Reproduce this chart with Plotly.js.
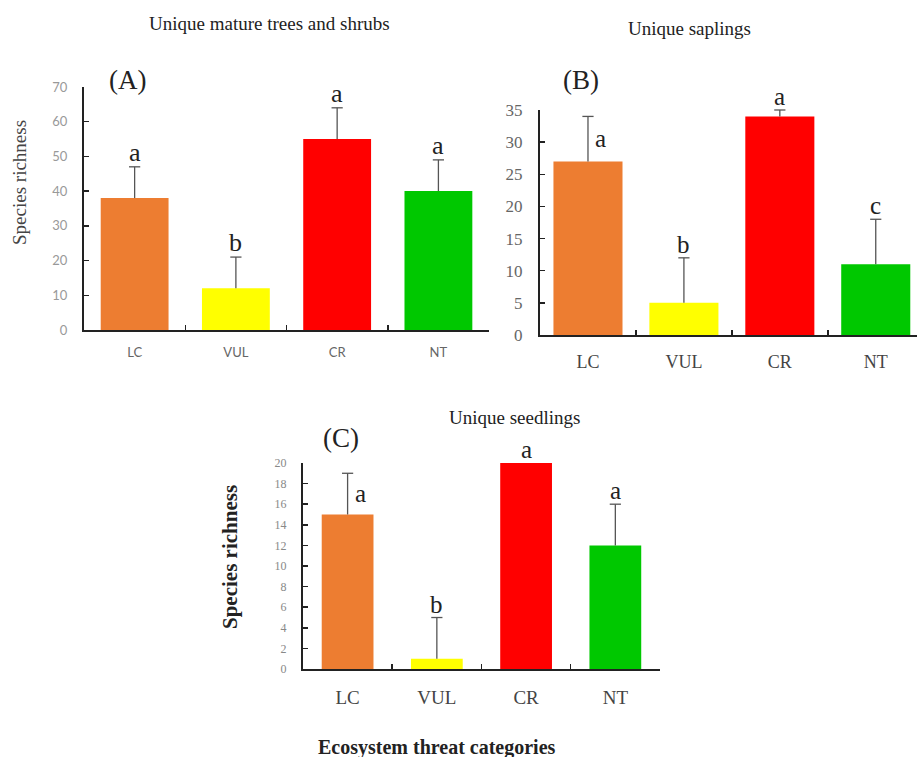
<!DOCTYPE html>
<html>
<head>
<meta charset="utf-8">
<script src="https://cdn.plot.ly/plotly-3.0.1.min.js"></script>
<style>html,body{margin:0;padding:0;background:#fff;}#chart{width:917px;height:757px;}</style>
</head>
<body>
<div id="chart"></div>
<script>
// ---- data ----
var categories = ['LC', 'VUL', 'CR', 'NT'];
var matureValues = [38, 12, 55, 40];
var matureErrors = [9, 9, 9, 9];
var matureLetters = ['a', 'b', 'a', 'a'];
var saplingValues = [27, 5, 34, 11];
var saplingErrors = [7, 7, 1, 7];
var saplingLetters = ['a', 'b', 'a', 'c'];
var seedlingValues = [15, 1, 20, 12];
var seedlingErrors = [4, 4, null, 4];
var seedlingLetters = ['a', 'b', 'a', 'a'];
var barColors = ['#ED7D31', '#FFFF00', '#FF0000', '#00C800'];
var yTicksA = [0, 10, 20, 30, 40, 50, 60, 70];
var yTicksB = [0, 5, 10, 15, 20, 25, 30, 35];
var yTicksC = [0, 2, 4, 6, 8, 10, 12, 14, 16, 18, 20];

var SERIF = '"Liberation Serif", "Times New Roman", serif';
var SANS = 'Lato, "Liberation Sans", sans-serif';
var ERR_COLOR = '#555';

function barTraces(vals, errs, xa, ya, width) {
  var tops = vals.map(function (v, i) { return errs[i] == null ? null : v + errs[i]; });
  return [{
    type: 'bar', x: categories, y: vals, xaxis: xa, yaxis: ya,
    width: width,
    marker: {color: barColors, line: {width: 0}},
    error_y: {type: 'data', symmetric: false, array: errs, color: ERR_COLOR, thickness: 1.3, width: 0},
    hoverinfo: 'skip', showlegend: false
  }, {
    // caps of the upper error whiskers
    type: 'scatter', mode: 'markers', x: categories, y: tops, xaxis: xa, yaxis: ya,
    marker: {symbol: 'line-ew', size: 8, line: {color: ERR_COLOR, width: 1.3}},
    cliponaxis: false, hoverinfo: 'skip', showlegend: false
  }];
}

var data = [].concat(
  barTraces(matureValues, matureErrors, 'x', 'y', 0.67),
  barTraces(saplingValues, saplingErrors, 'x2', 'y2', 0.72),
  barTraces(seedlingValues, seedlingErrors, 'x3', 'y3', 0.58)
);

function xAxis(domain, anchor, font, standoff, range) {
  return {
    domain: domain, anchor: anchor, type: 'category', range: range || [-0.5, 3.5],
    showline: true, linecolor: '#222', linewidth: 2, mirror: false,
    ticks: 'inside', tickson: 'boundaries', ticklen: 5, tickwidth: 1.5, tickcolor: '#222',
    showgrid: false, zeroline: false, tickfont: font, ticklabelstandoff: standoff, fixedrange: true
  };
}
function yAxis(domain, anchor, range, tickvals, font, standoff) {
  return {
    domain: domain, anchor: anchor, range: range, tickmode: 'array', tickvals: tickvals,
    showline: true, linecolor: '#222', linewidth: 2,
    ticks: 'inside', ticklen: 5, tickwidth: 1.5, tickcolor: '#222',
    showgrid: false, zeroline: false, tickfont: font, ticklabelstandoff: standoff, fixedrange: true
  };
}

var annotations = [];
function addLetters(vals, errs, letters, xref, yref, size, sideIdx) {
  for (var i = 0; i < categories.length; i++) {
    var top = vals[i] + (errs[i] || 0);
    if (i === sideIdx) {
      annotations.push({xref: xref, yref: yref, x: categories[i], y: (vals[i] + top) / 2,
        text: letters[i], showarrow: false, xanchor: 'left', yanchor: 'middle', xshift: 5,
        font: {family: SERIF, size: size, color: '#222'}});
    } else {
      annotations.push({xref: xref, yref: yref, x: categories[i], y: top,
        text: letters[i], showarrow: false, xanchor: 'center', yanchor: 'bottom', yshift: -2,
        font: {family: SERIF, size: size, color: '#222'}});
    }
  }
}
addLetters(matureValues, matureErrors, matureLetters, 'x', 'y', 26, -1);
addLetters(saplingValues, saplingErrors, saplingLetters, 'x2', 'y2', 25, 0);
addLetters(seedlingValues, seedlingErrors, seedlingLetters, 'x3', 'y3', 25, 0);

function paperText(text, x, y, font, angle) {
  annotations.push({xref: 'paper', yref: 'paper', x: x, y: y, text: text, showarrow: false,
    xanchor: 'center', yanchor: 'middle', font: font, textangle: angle || 0});
}
paperText('Unique mature trees and shrubs', 0.2944, 0.9696, {family: SERIF, size: 19, color: '#222'});
paperText('Unique saplings', 0.7524, 0.9617, {family: SERIF, size: 19, color: '#222'});
paperText('Unique seedlings', 0.5616, 0.4491, {family: SERIF, size: 19, color: '#222'});
paperText('(A)', 0.1385, 0.8943, {family: SERIF, size: 27, color: '#222'});
paperText('(B)', 0.6336, 0.8943, {family: SERIF, size: 27, color: '#222'});
paperText('(C)', 0.3719, 0.4214, {family: SERIF, size: 27, color: '#222'});
paperText('Species richness', 0.0218, 0.7596, {family: SERIF, size: 19, color: '#444'}, -90);
paperText('<b>Species richness</b>', 0.2508, 0.2642, {family: SERIF, size: 21, color: '#222'}, -90);
paperText('<b>Ecosystem threat categories</b>', 0.4765, 0.0119, {family: SERIF, size: 20, color: '#222'});

var layout = {
  width: 917, height: 757,
  margin: {l: 0, r: 0, t: 0, b: 0},
  paper_bgcolor: '#fff', plot_bgcolor: 'rgba(0,0,0,0)',
  showlegend: false, bargap: 0.3,
  xaxis: xAxis([0.0916, 0.5333], 'y', {family: SANS, size: 13, color: '#666'}, 9),
  yaxis: yAxis([0.5641, 0.8851], 'x', [0, 70], yTicksA, {family: SANS, size: 13, color: '#999'}, 12),
  xaxis2: xAxis([0.5889, 1.0], 'y2', {family: SERIF, size: 18, color: '#444'}, 9, [-0.5, 3.43]),
  yaxis2: yAxis([0.5575, 0.8547], 'x2', [0, 35], yTicksB, {family: SERIF, size: 17, color: '#666'}, 12),
  xaxis3: xAxis([0.3304, 0.7197], 'y3', {family: SERIF, size: 19, color: '#444'}, 10),
  yaxis3: yAxis([0.1162, 0.3884], 'x3', [0, 20], yTicksC, {family: SERIF, size: 12, color: '#888'}, 12),
  annotations: annotations
};

Plotly.newPlot('chart', data, layout, {displayModeBar: false, staticPlot: true});
</script>
</body>
</html>
